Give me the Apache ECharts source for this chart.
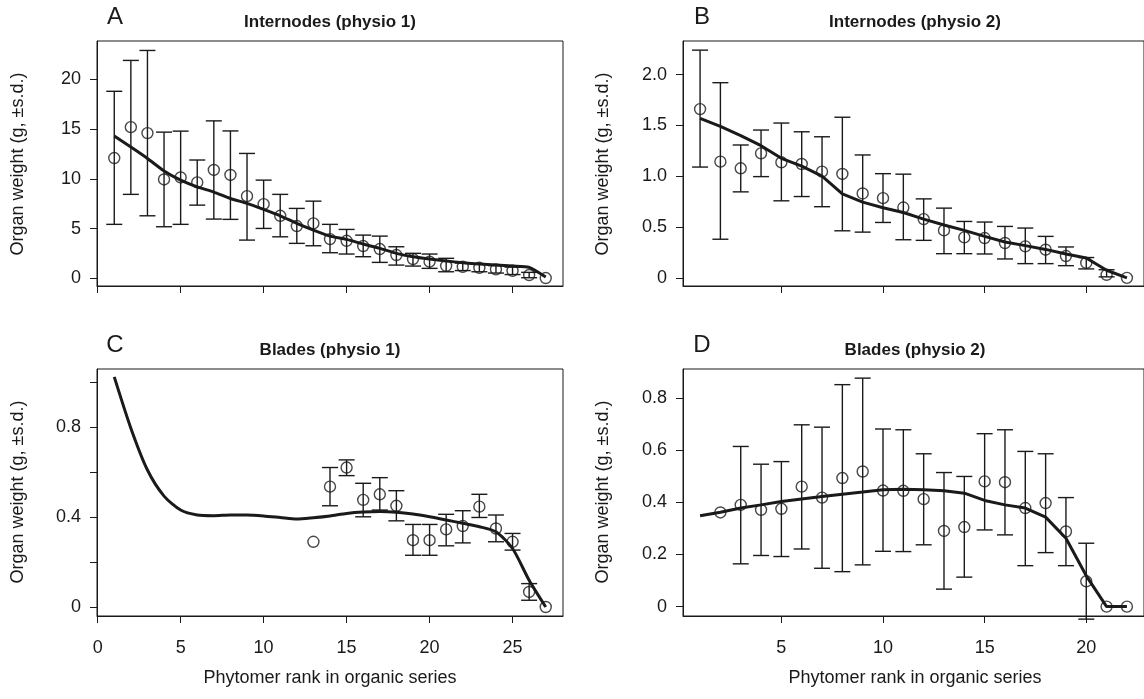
<!DOCTYPE html>
<html>
<head>
<meta charset="utf-8">
<script src="https://cdn.jsdelivr.net/npm/echarts@6/dist/echarts.min.js"></script>
<style>
html,body{margin:0;padding:0;background:#fff;}
#chart{width:1144px;height:699px;}
</style>
</head>
<body>
<div id="chart"></div>
<script>
// ---------- DATA ----------
const rankA = [1,2,3,4,5,6,7,8,9,10,11,12,13,14,15,16,17,18,19,20,21,22,23,24,25,26,27];
const obsA  = [12.1,15.2,14.6,9.95,10.15,9.65,10.9,10.4,8.27,7.47,6.3,5.27,5.54,3.96,3.79,3.26,2.96,2.36,1.96,1.69,1.28,1.18,1.08,0.92,0.78,0.35,0.05];
const loA   = [5.44,8.45,6.3,5.2,5.44,7.37,5.97,5.94,3.86,5.03,4.19,3.53,3.29,2.59,2.46,2.19,1.62,1.35,1.25,1.02,0.68,0.8,0.68,0.55,0.4,0.08,null];
const hiA   = [18.8,21.9,22.9,14.7,14.8,11.9,15.83,14.82,12.56,9.88,8.45,7.04,7.77,5.44,4.93,4.36,4.26,3.19,2.53,2.46,2.03,1.55,1.48,1.3,1.15,0.62,null];
const fitA  = [14.3,13.2,12.06,10.8,9.88,9.2,8.68,8.04,7.54,6.94,6.3,5.54,4.86,4.26,3.93,3.46,3.03,2.53,2.19,1.96,1.76,1.59,1.45,1.35,1.25,1.12,0.15];

const rankB = [1,2,3,4,5,6,7,8,9,10,11,12,13,14,15,16,17,18,19,20,21,22];
const obsB  = [1.66,1.143,1.078,1.225,1.137,1.12,1.045,1.022,0.83,0.784,0.692,0.578,0.467,0.398,0.392,0.343,0.31,0.277,0.215,0.147,0.03,0];
const loB   = [1.09,0.38,0.846,0.996,0.758,0.80,0.70,0.463,0.45,0.545,0.375,0.369,0.238,0.238,0.235,0.186,0.14,0.14,0.12,0.088,0.01,null];
const hiB   = [2.24,1.92,1.307,1.454,1.523,1.437,1.388,1.58,1.209,1.025,1.02,0.777,0.686,0.555,0.549,0.506,0.49,0.408,0.304,0.20,0.08,null];
const fitB  = [1.568,1.49,1.40,1.30,1.176,1.10,1.0,0.826,0.745,0.69,0.643,0.578,0.52,0.467,0.408,0.353,0.317,0.28,0.235,0.195,0.075,0];

const rankCfit = [1,2,3,4,5,6,7,8,9,10,11,12,13,14,15,16,17,18,19,20,21,22,23,24,25,26,27];
const fitC  = [1.023,0.795,0.609,0.493,0.431,0.409,0.406,0.409,0.409,0.405,0.398,0.391,0.397,0.405,0.416,0.422,0.424,0.421,0.413,0.401,0.387,0.372,0.357,0.334,0.26,0.119,0];
const rankCobs = [13,14,15,16,17,18,19,20,21,22,23,24,25,26,27];
const obsC  = [0.29,0.535,0.62,0.476,0.501,0.45,0.297,0.297,0.345,0.36,0.446,0.349,0.29,0.067,0];
const loC   = [null,0.45,0.584,0.401,0.431,0.383,0.23,0.23,0.272,0.285,0.398,0.29,0.253,0.03,null];
const hiC   = [null,0.62,0.654,0.55,0.575,0.517,0.367,0.367,0.412,0.428,0.501,0.409,0.327,0.104,null];

const rankDfit = [1,2,3,4,5,6,7,8,9,10,11,12,13,14,15,16,17,18,19,20,21,22];
const fitD  = [0.348,0.362,0.378,0.39,0.403,0.413,0.422,0.431,0.439,0.448,0.45,0.448,0.444,0.435,0.407,0.39,0.378,0.343,0.262,0.118,0,0];
const rankDobs = [2,3,4,5,6,7,8,9,10,11,12,13,14,15,16,17,18,19,20,21,22];
const obsD  = [0.361,0.39,0.371,0.375,0.46,0.418,0.493,0.518,0.445,0.444,0.412,0.29,0.305,0.48,0.477,0.378,0.397,0.288,0.097,0,0];
const loD   = [null,0.164,0.196,0.192,0.221,0.147,0.134,0.16,0.212,0.211,0.237,0.067,0.113,0.294,0.275,0.157,0.207,0.157,-0.048,null,null];
const hiD   = [null,0.614,0.546,0.556,0.697,0.688,0.851,0.876,0.681,0.678,0.586,0.514,0.499,0.663,0.678,0.595,0.586,0.418,0.243,null,null];

const xTicks13 = [0,5,10,15,20,25];
const xTicks24 = [5,10,15,20];
const yTicksA = [0,5,10,15,20];
const yTicksB = [0,0.5,1.0,1.5,2.0];
const yTicksC = [0,0.2,0.4,0.6,0.8,1.0];
const yLabelsC = [0,0.4,0.8];
const yTicksD = [0,0.2,0.4,0.6,0.8];

const panelLetters = ['A','B','C','D'];
const panelTitles = ['Internodes (physio 1)','Internodes (physio 2)','Blades (physio 1)','Blades (physio 2)'];
const yTitle = 'Organ weight (g, \u00b1s.d.)';
const xTitle = 'Phytomer rank in organic series';

// ---------- CHART ----------
const INK = '#1a1a1a';
const FONT = '"Liberation Sans", Arial, Helvetica, sans-serif';
const chart = echarts.init(document.getElementById('chart'), null, {renderer:'canvas'});

const grids = [
  {left:97, top:41, width:466, height:245},
  {left:683, top:41, width:464, height:245},
  {left:97, top:369, width:466, height:247},
  {left:683, top:369, width:464, height:247}
];
const xRanges = [[-0.04,28.04],[0.16,22.84],[-0.04,28.04],[0.16,22.84]];
const yRanges = [[-0.75,23.85],[-0.08,2.33],[-0.04,1.058],[-0.036,0.911]];
const xTickSets = [xTicks13, xTicks24, xTicks13, xTicks24];
const xLabelSets = [[], [], xTicks13, xTicks24];
const yTickSets = [yTicksA, yTicksB, yTicksC, yTicksD];
const yLabelSets = [yTicksA, yTicksB, yLabelsC, yTicksD];
const yFmt = [
  v => String(Math.round(v)),
  v => v === 0 ? '0' : v.toFixed(1),
  v => v === 0 ? '0' : v.toFixed(1),
  v => v === 0 ? '0' : v.toFixed(1)
];

function zipXY(xs, ys){ const out=[]; for(let i=0;i<xs.length;i++){ if(ys[i]!==null) out.push([xs[i], ys[i]]);} return out; }
function zipErr(xs, lo, hi){ const out=[]; for(let i=0;i<xs.length;i++){ if(lo[i]!==null && hi[i]!==null) out.push([xs[i], lo[i], hi[i]]);} return out; }

function errRender(params, api){
  const x = api.value(0), lo = api.value(1), hi = api.value(2);
  const pT = api.coord([x, hi]);
  const pB = api.coord([x, lo]);
  const cap = 8;
  const st = {stroke: INK, lineWidth: 1.4};
  return {type:'group', children:[
    {type:'line', shape:{x1:pT[0], y1:pT[1], x2:pB[0], y2:pB[1]}, style:st},
    {type:'line', shape:{x1:pT[0]-cap, y1:pT[1], x2:pT[0]+cap, y2:pT[1]}, style:st},
    {type:'line', shape:{x1:pB[0]-cap, y1:pB[1], x2:pB[0]+cap, y2:pB[1]}, style:st}
  ]};
}

const xAxis = [], yAxis = [];
for (let i=0;i<4;i++){
  xAxis.push({
    type:'value', gridIndex:i, min:xRanges[i][0], max:xRanges[i][1],
    splitLine:{show:false},
    axisLine:{show:true, onZero:false, lineStyle:{color:INK, width:1}},
    axisTick:{show:true, inside:false, length:7, customValues:xTickSets[i], lineStyle:{color:INK, width:1}},
    axisLabel:{show:xLabelSets[i].length>0, customValues:xLabelSets[i], margin:23, color:INK, fontFamily:FONT, fontSize:18,
      formatter: v => String(Math.round(v))}
  });
  yAxis.push({
    type:'value', gridIndex:i, min:yRanges[i][0], max:yRanges[i][1],
    splitLine:{show:false},
    axisLine:{show:true, onZero:false, lineStyle:{color:INK, width:1}},
    axisTick:{show:true, inside:false, length:7, customValues:yTickSets[i], lineStyle:{color:INK, width:1}},
    axisLabel:{show:true, customValues:yLabelSets[i], margin:16, color:INK, fontFamily:FONT, fontSize:18, formatter:yFmt[i]}
  });
}

const fits = [[rankA, fitA],[rankB, fitB],[rankCfit, fitC],[rankDfit, fitD]];
const obs = [[rankA, obsA, loA, hiA],[rankB, obsB, loB, hiB],[rankCobs, obsC, loC, hiC],[rankDobs, obsD, loD, hiD]];
const smooths = [0.2, false, 0.25, false];

const series = [];
for (let i=0;i<4;i++){
  series.push({
    type:'custom', xAxisIndex:i, yAxisIndex:i, renderItem:errRender, clip:false, silent:true,
    encode:{x:0, y:[1,2]},
    data: zipErr(obs[i][0], obs[i][2], obs[i][3]), z:2
  });
  series.push({
    type:'line', xAxisIndex:i, yAxisIndex:i, data: zipXY(fits[i][0], fits[i][1]),
    showSymbol:false, symbol:'none', smooth:smooths[i], lineStyle:{color:INK, width:3}, z:3, silent:true
  });
  series.push({
    type:'scatter', xAxisIndex:i, yAxisIndex:i, data: zipXY(obs[i][0], obs[i][1]),
    symbol:'circle', symbolSize:11,
    itemStyle:{color:'rgba(0,0,0,0)', borderColor:INK, borderWidth:1.4}, z:4, silent:true
  });
}

const letterPos = [[115,17],[702,17],[115,345],[702,345]];
const titlePos = [[330,22],[915,22],[330,350],[915,350]];
const graphic = [];
for (let i=0;i<4;i++){
  graphic.push({type:'text', x:letterPos[i][0], y:letterPos[i][1], silent:true,
    style:{text:panelLetters[i], font:'24px '+FONT, fill:INK, align:'center', verticalAlign:'middle'}});
  graphic.push({type:'text', x:titlePos[i][0], y:titlePos[i][1], silent:true,
    style:{text:panelTitles[i], font:'bold 17px '+FONT, fill:INK, align:'center', verticalAlign:'middle'}});
}
const yTitlePos = [[18,164],[603,164],[18,492],[603,492]];
for (let i=0;i<4;i++){
  graphic.push({type:'text', x:yTitlePos[i][0], y:yTitlePos[i][1], rotation:Math.PI/2, silent:true,
    style:{text:yTitle, font:'18px '+FONT, fill:INK, align:'center', verticalAlign:'middle'}});
}
graphic.push({type:'text', x:330, y:678, silent:true, style:{text:xTitle, font:'18px '+FONT, fill:INK, align:'center', verticalAlign:'middle'}});
graphic.push({type:'text', x:915, y:678, silent:true, style:{text:xTitle, font:'18px '+FONT, fill:INK, align:'center', verticalAlign:'middle'}});

chart.setOption({
  animation:false,
  backgroundColor:'#ffffff',
  grid: grids.map(g => Object.assign({show:true, borderColor:INK, borderWidth:1, backgroundColor:'transparent', containLabel:false}, g)),
  xAxis, yAxis, series, graphic
});
</script>
</body>
</html>
